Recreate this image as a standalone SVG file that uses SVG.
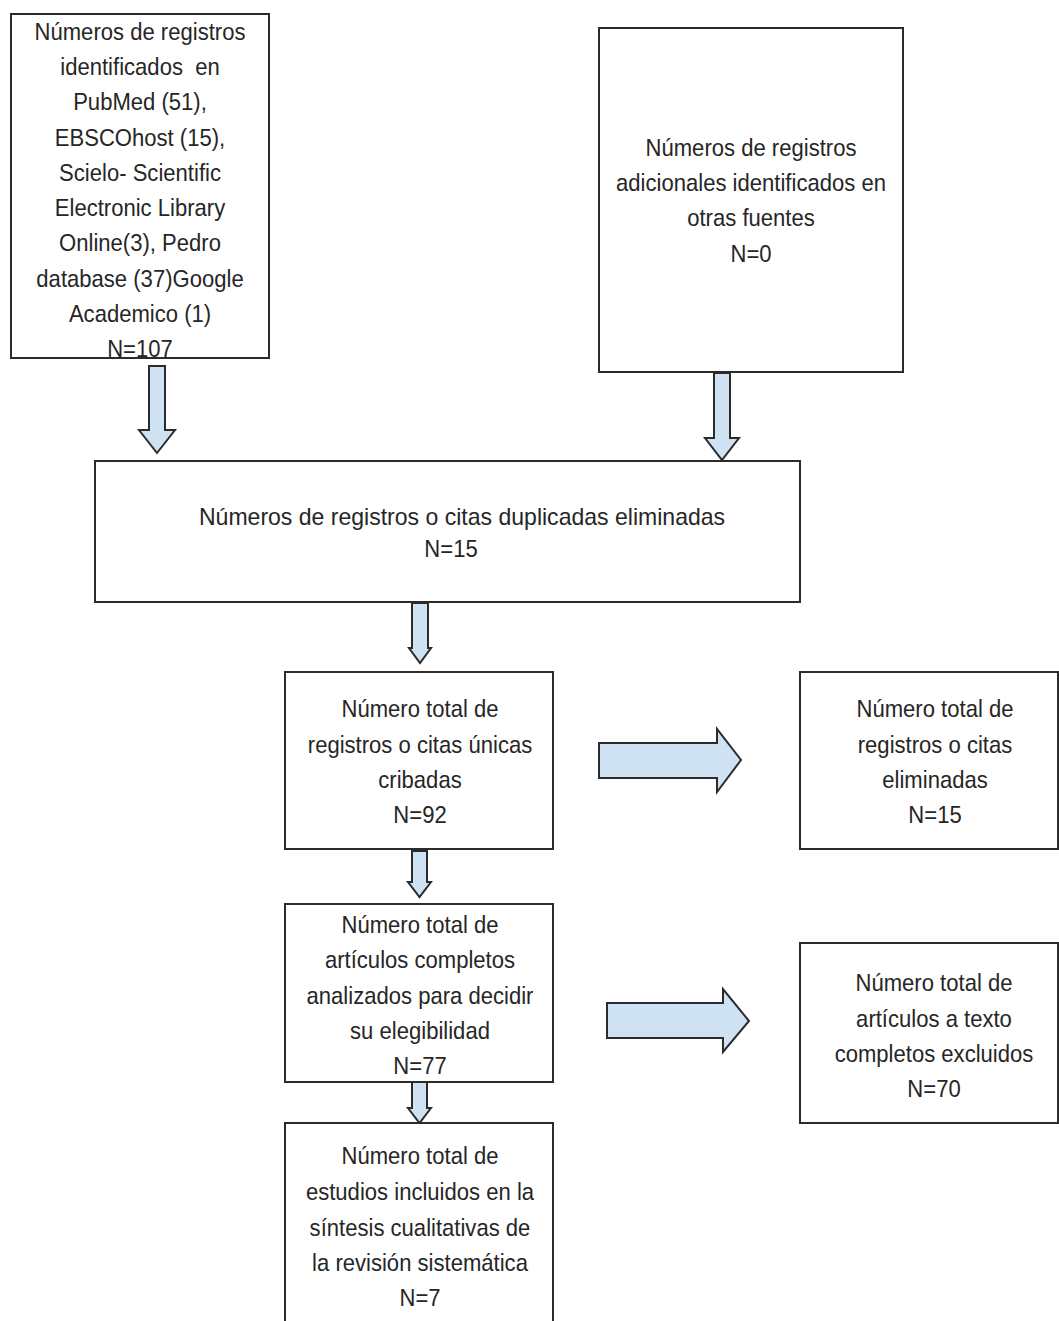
<svg xmlns="http://www.w3.org/2000/svg" width="1059" height="1321" viewBox="0 0 1059 1321">
<style>
.box{fill:#ffffff;stroke:#2b2b2b;stroke-width:2}
.arr{fill:#cfe2f3;stroke:#2b2b2b;stroke-width:2;stroke-linejoin:miter}
text{font-family:"Liberation Sans",Arial,sans-serif;font-size:24px;fill:#262626;text-anchor:middle}
</style>
<rect width="1059" height="1321" fill="#ffffff"/>
<g id="connectors">
<polygon class="arr" points="149,366 165,366 165,430 175,430 157,453 139,430 149,430"/>
<polygon class="arr" points="714,373 730,373 730,438 739,438 722,460 705,438 714,438"/>
<polygon class="arr" points="412,603 428,603 428,648 431,648 420,663 409,648 412,648"/>
<polygon class="arr" points="412,851 427,851 427,882 431,882 419.5,897 408,882 412,882"/>
<polygon class="arr" points="412,1082 427,1082 427,1108 431,1108 419.5,1123 408,1108 412,1108"/>
<polygon class="arr" points="599,743 717,743 717,729 741,760 717,792 717,778 599,778"/>
<polygon class="arr" points="607,1003 723,1003 723,989 749,1021 723,1052 723,1038 607,1038"/>
</g>
<g id="n1">
<rect class="box" x="11" y="14" width="258" height="344"/>
<g transform="translate(140,0) scale(0.92,1)">
<text x="0" y="40">Números de registros</text>
<text x="0" y="75">identificados &#160;en</text>
<text x="0" y="110">PubMed (51),</text>
<text x="0" y="146">EBSCOhost (15),</text>
<text x="0" y="181">Scielo- Scientific</text>
<text x="0" y="216">Electronic Library</text>
<text x="0" y="251">Online(3), Pedro</text>
<text x="0" y="287">database (37)Google</text>
<text x="0" y="322">Academico (1)</text>
<text x="0" y="357">N=107</text>
</g>
</g>
<g id="n2">
<rect class="box" x="599" y="28" width="304" height="344"/>
<g transform="translate(751,0) scale(0.92,1)">
<text x="0" y="156">Números de registros</text>
<text x="0" y="191">adicionales identificados en</text>
<text x="0" y="226">otras fuentes</text>
<text x="0" y="262">N=0</text>
</g>
</g>
<g id="n3">
<rect class="box" x="95" y="461" width="705" height="141"/>
<g transform="translate(462,0) scale(0.96,1)">
<text x="0" y="525">Números de registros o citas duplicadas eliminadas</text>
</g>
<g transform="translate(451,0) scale(0.92,1)">
<text x="0" y="557">N=15</text>
</g>
</g>
<g id="n4">
<rect class="box" x="285" y="672" width="268" height="177"/>
<g transform="translate(420,0) scale(0.92,1)">
<text x="0" y="717">Número total de</text>
<text x="0" y="753">registros o citas únicas</text>
<text x="0" y="788">cribadas</text>
<text x="0" y="823">N=92</text>
</g>
</g>
<g id="n5">
<rect class="box" x="800" y="672" width="258" height="177"/>
<g transform="translate(935,0) scale(0.92,1)">
<text x="0" y="717">Número total de</text>
<text x="0" y="753">registros o citas</text>
<text x="0" y="788">eliminadas</text>
<text x="0" y="823">N=15</text>
</g>
</g>
<g id="n6">
<rect class="box" x="285" y="904" width="268" height="178"/>
<g transform="translate(420,0) scale(0.92,1)">
<text x="0" y="933">Número total de</text>
<text x="0" y="968">artículos completos</text>
<text x="0" y="1004">analizados para decidir</text>
<text x="0" y="1039">su elegibilidad</text>
<text x="0" y="1074">N=77</text>
</g>
</g>
<g id="n7">
<rect class="box" x="285" y="1123" width="268" height="210"/>
<g transform="translate(420,0) scale(0.92,1)">
<text x="0" y="1164">Número total de</text>
<text x="0" y="1200">estudios incluidos en la</text>
<text x="0" y="1236">síntesis cualitativas de</text>
<text x="0" y="1271">la revisión sistemática</text>
<text x="0" y="1306">N=7</text>
</g>
</g>
<g id="n8">
<rect class="box" x="800" y="943" width="258" height="180"/>
<g transform="translate(934,0) scale(0.92,1)">
<text x="0" y="991">Número total de</text>
<text x="0" y="1027">artículos a texto</text>
<text x="0" y="1062">completos excluidos</text>
<text x="0" y="1097">N=70</text>
</g>
</g>
</svg>
